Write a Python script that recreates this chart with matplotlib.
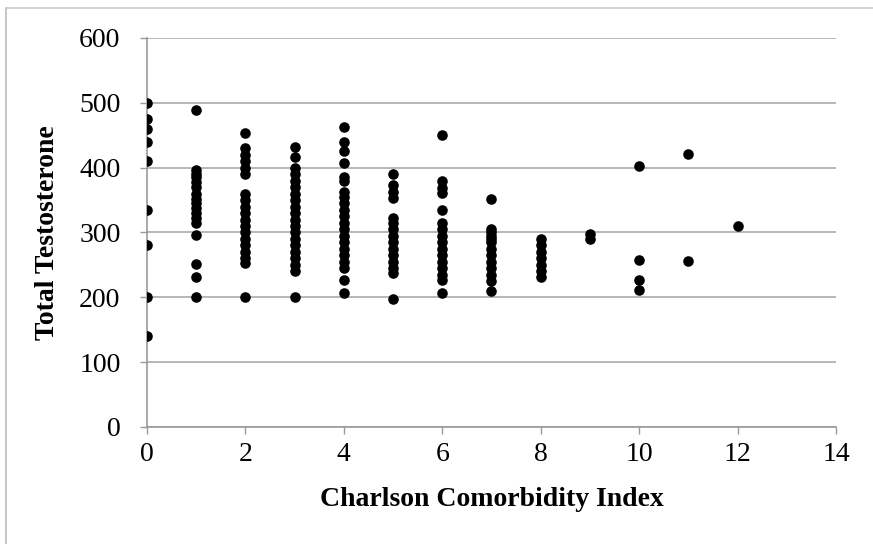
import matplotlib
matplotlib.use("Agg")
import matplotlib.pyplot as plt
from matplotlib.lines import Line2D

# Charlson Comorbidity Index vs. total testosterone
cci_0 = [500, 475, 460, 440, 410, 335, 280, 200, 140]
cci_1 = [489, 397, 390, 385, 378, 370, 360, 352, 345, 338, 330, 322, 315, 296, 251, 231, 200]
cci_2 = [454, 430, 420, 410, 400, 390, 360, 350, 340, 330, 320, 310, 300, 290, 280, 270, 260, 253, 200]
cci_3 = [432, 417, 400, 390, 380, 370, 360, 350, 340, 330, 320, 310, 300, 290, 280, 270,
         260, 250, 240, 200]
cci_4 = [462, 440, 425, 407, 385, 380, 363, 355, 345, 335, 325, 315, 305, 295, 285, 275,
         265, 255, 245, 227, 206]
cci_5 = [391, 373, 363, 353, 322, 315, 305, 295, 285, 275, 265, 255, 245, 237, 198]
cci_6 = [450, 379, 368, 361, 335, 314, 305, 295, 285, 275, 265, 255, 245, 235, 227, 206]
cci_7 = [351, 305, 300, 295, 290, 285, 275, 265, 255, 245, 235, 225, 210]
cci_8 = [290, 280, 270, 260, 250, 240, 232]
cci_9 = [297, 290]
cci_10 = [402, 257, 226, 211]
cci_11 = [421, 256]
cci_12 = [310]

groups = [cci_0, cci_1, cci_2, cci_3, cci_4, cci_5, cci_6, cci_7, cci_8, cci_9,
          cci_10, cci_11, cci_12]

x_ticks = [0, 2, 4, 6, 8, 10, 12, 14]
y_ticks = [0, 100, 200, 300, 400, 500, 600]

plt.rcParams['font.family'] = ['Liberation Serif', 'DejaVu Serif']

fig = plt.figure(figsize=(8.73, 5.44), dpi=100)
ax = fig.add_axes([147 / 873, 1 - 427 / 544, (836 - 147) / 873, (427 - 38) / 544])

xs, ys = [], []
for idx, vals in enumerate(groups):
    xs.extend([idx] * len(vals))
    ys.extend(vals)
ax.scatter(xs, ys, s=58, color='black', zorder=3, linewidths=0)

ax.set_xlim(0, 14)
ax.set_ylim(0, 600)
ax.set_xticks(x_ticks)
ax.set_yticks(y_ticks)
ax.tick_params(labelsize=20, color='#999999', length=5, width=1, direction='out')
ax.tick_params(axis='y', pad=14)
ax.tick_params(axis='x', pad=6)
ax.yaxis.grid(True, color='#aaaaaa', linewidth=1.2)
ax.set_axisbelow(True)
for side in ['top', 'right']:
    ax.spines[side].set_visible(False)
for side in ['left', 'bottom']:
    ax.spines[side].set_color('#999999')
    ax.spines[side].set_linewidth(1.2)

ax.set_xlabel('Charlson Comorbidity Index', fontsize=20, fontweight='bold', labelpad=14)
ax.set_ylabel('Total Testosterone', fontsize=20, fontweight='bold', labelpad=14)

# light outer frame along the left and top edges
fig.add_artist(Line2D([6 / 873, 6 / 873], [0, 1 - 8 / 544], color='#bbbbbb', linewidth=1.2))
fig.add_artist(Line2D([6 / 873, 1], [1 - 8 / 544, 1 - 8 / 544], color='#cccccc', linewidth=1.2))

fig.savefig('out.png', dpi=100)
